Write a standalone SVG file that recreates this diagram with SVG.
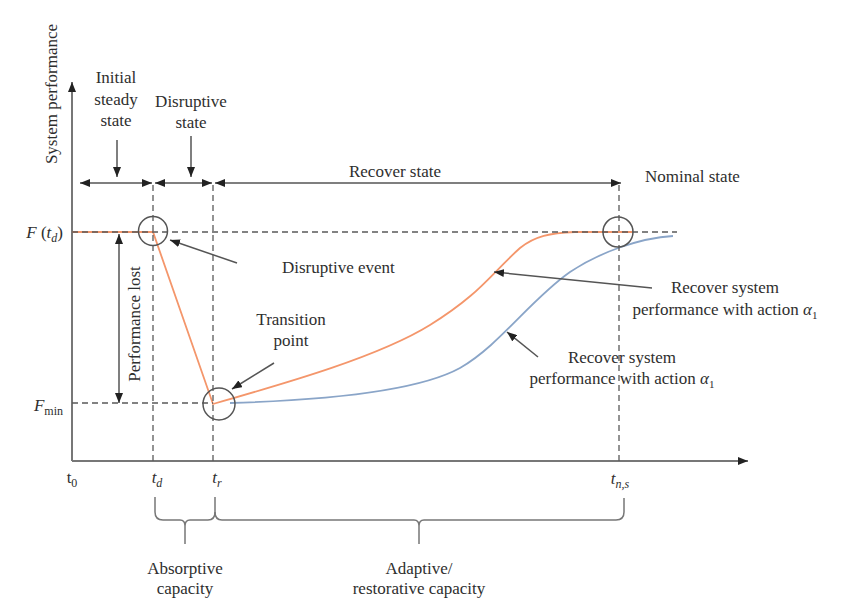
<svg xmlns="http://www.w3.org/2000/svg" width="866" height="609" viewBox="0 0 866 609">
<style>
text{font-family:"Liberation Serif","Times New Roman",serif;font-size:17px;fill:#2e2e2e}
.mid{text-anchor:middle}
.it{font-style:italic}
.axis{stroke:#777;stroke-width:2;fill:none}
.dash{stroke:#5a5a5a;stroke-width:1.3;stroke-dasharray:6 4;fill:none}
.arr{stroke:#555;stroke-width:1.5;fill:none}
.circ{stroke:#555;stroke-width:1.5;fill:none}
.brace{stroke:#777;stroke-width:1.5;fill:none}
.orange{stroke:#F4966B;stroke-width:1.8;fill:none}
.blue{stroke:#8AA5C8;stroke-width:1.8;fill:none}
</style>
<defs>
<marker id="ah" viewBox="0 0 10 8" refX="10" refY="4" markerWidth="10" markerHeight="8" markerUnits="userSpaceOnUse" orient="auto-start-reverse">
<path d="M0,0 L10,4 L0,8 z" fill="#222"/>
</marker>
</defs>
<rect width="866" height="609" fill="#fff"/>

<g id="axes">
<line class="axis" x1="72" y1="461" x2="72" y2="82" marker-end="url(#ah)"/>
<line class="axis" x1="72" y1="461" x2="748" y2="461" marker-end="url(#ah)"/>
<text transform="translate(57,94) rotate(-90)" class="mid">System performance</text>
</g>

<g id="curves">
<path class="orange" d="M72,232 L153,232 L213,404 C290,382 380,356 430,325 S490,275 520,248 C535,236 550,233 575,232 L632,232"/>
<path class="blue" d="M230,403 C330,400 420,390 460,368 C500,345 530,300 570,272 C600,252 640,238 673,236"/>
</g>

<g id="guides">
<line class="dash" x1="72" y1="232" x2="677" y2="232"/>
<line class="dash" x1="72" y1="403" x2="213" y2="403"/>
<line class="dash" x1="153" y1="185" x2="153" y2="461"/>
<line class="dash" x1="213" y1="185" x2="213" y2="461"/>
<line class="dash" x1="619" y1="185" x2="619" y2="461"/>
</g>

<g id="circles">
<circle class="circ" cx="153" cy="231" r="14.5"/>
<circle class="circ" cx="219" cy="404" r="16"/>
<circle class="circ" cx="618" cy="232" r="15"/>
</g>

<g id="connectors">
<line class="arr" x1="80" y1="183" x2="152" y2="183" marker-start="url(#ah)" marker-end="url(#ah)"/>
<line class="arr" x1="155" y1="183" x2="212" y2="183" marker-start="url(#ah)" marker-end="url(#ah)"/>
<line class="arr" x1="215" y1="183" x2="621" y2="183" marker-start="url(#ah)" marker-end="url(#ah)"/>
<line class="arr" x1="117" y1="140" x2="117" y2="177" marker-end="url(#ah)"/>
<line class="arr" x1="191" y1="136" x2="191" y2="177" marker-end="url(#ah)"/>
<line class="arr" x1="119" y1="234" x2="119" y2="403" marker-start="url(#ah)" marker-end="url(#ah)"/>
<line class="arr" x1="237" y1="263" x2="170" y2="240" marker-end="url(#ah)"/>
<line class="arr" x1="274" y1="363" x2="232" y2="389" marker-end="url(#ah)"/>
<line class="arr" x1="652" y1="288" x2="494" y2="272" marker-end="url(#ah)"/>
<line class="arr" x1="538" y1="357" x2="507" y2="332" marker-end="url(#ah)"/>
</g>

<g id="braces">
<path class="brace" d="M155,497 L155,512 Q155,520 163,520 L180,520 Q185,520 185,526 L185,544 M185,526 Q185,520 190,520 L208,520 Q215,520 215,512 L215,497"/>
<path class="brace" d="M215,512 Q215,520 222,520 L414,520 Q419,520 419,526 L419,544 M419,526 Q419,520 424,520 L616,520 Q624,520 624,512 L624,498"/>
</g>

<g id="labels">
<text x="116" y="83" class="mid">Initial</text>
<text x="116" y="104.5" class="mid">steady</text>
<text x="116" y="126" class="mid">state</text>
<text x="191" y="107" class="mid">Disruptive</text>
<text x="191" y="128" class="mid">state</text>
<text x="395" y="177" class="mid">Recover state</text>
<text x="645" y="182">Nominal state</text>
<text x="282" y="273">Disruptive event</text>
<text x="291" y="325" class="mid">Transition</text>
<text x="291" y="346" class="mid">point</text>
<text x="725" y="293" class="mid">Recover system</text>
<text x="725" y="315" class="mid">performance with action <tspan class="it">α</tspan><tspan font-size="11" dy="4">1</tspan></text>
<text x="622" y="363" class="mid">Recover system</text>
<text x="622" y="384" class="mid">performance with action <tspan class="it">α</tspan><tspan font-size="11" dy="4">1</tspan></text>
<text transform="translate(140,324) rotate(-90)" class="mid">Performance lost</text>
<text x="63" y="238" style="text-anchor:end"><tspan class="it">F</tspan> (<tspan class="it">t</tspan><tspan class="it" font-size="12" dy="4">d</tspan><tspan dy="-4">)</tspan></text>
<text x="63" y="411" style="text-anchor:end"><tspan class="it">F</tspan><tspan font-size="12" dy="4">min</tspan></text>
<text x="72" y="483" class="mid">t<tspan font-size="12" dy="4">0</tspan></text>
<text x="157" y="483" class="mid"><tspan class="it">t</tspan><tspan class="it" font-size="12" dy="4">d</tspan></text>
<text x="217" y="483" class="mid"><tspan class="it">t</tspan><tspan class="it" font-size="12" dy="4">r</tspan></text>
<text x="620" y="484" class="mid"><tspan class="it">t</tspan><tspan class="it" font-size="12" dy="4">n,s</tspan></text>
<text x="185" y="574" class="mid">Absorptive</text>
<text x="185" y="594" class="mid">capacity</text>
<text x="419" y="574" class="mid">Adaptive/</text>
<text x="419" y="594" class="mid">restorative capacity</text>
</g>
</svg>
